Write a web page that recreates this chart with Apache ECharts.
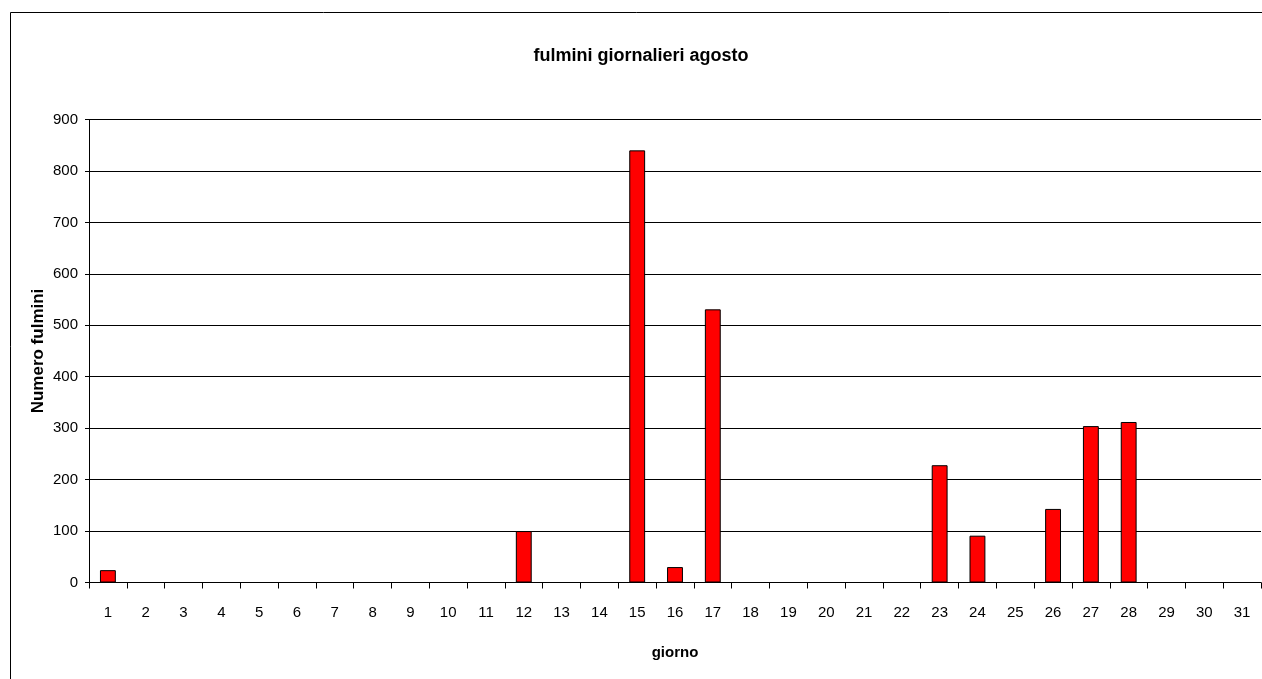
<!DOCTYPE html>
<html><head><meta charset="utf-8">
<script src="https://cdn.jsdelivr.net/npm/echarts@6/dist/echarts.min.js"></script>
<style>html,body{margin:0;padding:0;background:#fff}#c{width:1262px;height:679px}</style>
</head><body><div id="c"></div>
<script>
const days = ['1','2','3','4','5','6','7','8','9','10','11','12','13','14','15','16','17','18','19','20','21','22','23','24','25','26','27','28','29','30','31'];
const fulmini = [24,0,0,0,0,0,0,0,0,0,0,100,0,0,840,30,531,0,0,0,0,0,228,91,0,143,304,312,0,0,0];
const yTicks = [0,100,200,300,400,500,600,700,800,900];
const FONT = '"Liberation Sans", Arial, sans-serif';
const chart = echarts.init(document.getElementById('c'), null, {renderer:'canvas'});
chart.setOption({
  animation:false,
  backgroundColor:'#fff',
  title:{text:'fulmini giornalieri agosto', left:636, textAlign:'center', top:42, textStyle:{fontFamily:FONT, fontSize:18, fontWeight:'bold', color:'#000'}},
  graphic:[{type:'rect', shape:{x:10.5,y:12.5,width:1300,height:700}, style:{fill:null, stroke:'#000', lineWidth:1}, silent:true}],
  grid:{left:89, top:119.5, width:1172, height:463, containLabel:false},
  xAxis:{type:'category', data:days,
    name:'giorno', nameLocation:'middle', nameGap:63,
    nameTextStyle:{fontFamily:FONT, fontSize:15, fontWeight:'bold', color:'#000'},
    axisLine:{lineStyle:{color:'#000', width:1}},
    axisTick:{show:true, alignWithLabel:false, length:6, lineStyle:{color:'#000'}},
    axisLabel:{fontFamily:FONT, fontSize:15, color:'#000', margin:30, interval:0, verticalAlign:'middle'},
    splitLine:{show:false}},
  yAxis:{type:'value', min:0, max:900, interval:100,
    name:'Numero fulmini', nameLocation:'middle', nameGap:42, nameRotate:90, nameMoveOverlap:false,
    nameTextStyle:{fontFamily:FONT, fontSize:17, fontWeight:'bold', color:'#000'},
    axisLine:{show:true, lineStyle:{color:'#000', width:1}},
    axisTick:{show:true, length:4, lineStyle:{color:'#000'}},
    axisLabel:{fontFamily:FONT, fontSize:15, color:'#000', margin:11,
      formatter:function(v){return yTicks.indexOf(v)>=0 ? String(v) : '';}},
    splitLine:{show:true, lineStyle:{color:'#000', width:1}}},
  series:[{type:'bar', data:fulmini, barWidth:'42%',
    itemStyle:{color:'#ff0000', borderColor:'#000', borderWidth:1}}]
});
</script></body></html>
